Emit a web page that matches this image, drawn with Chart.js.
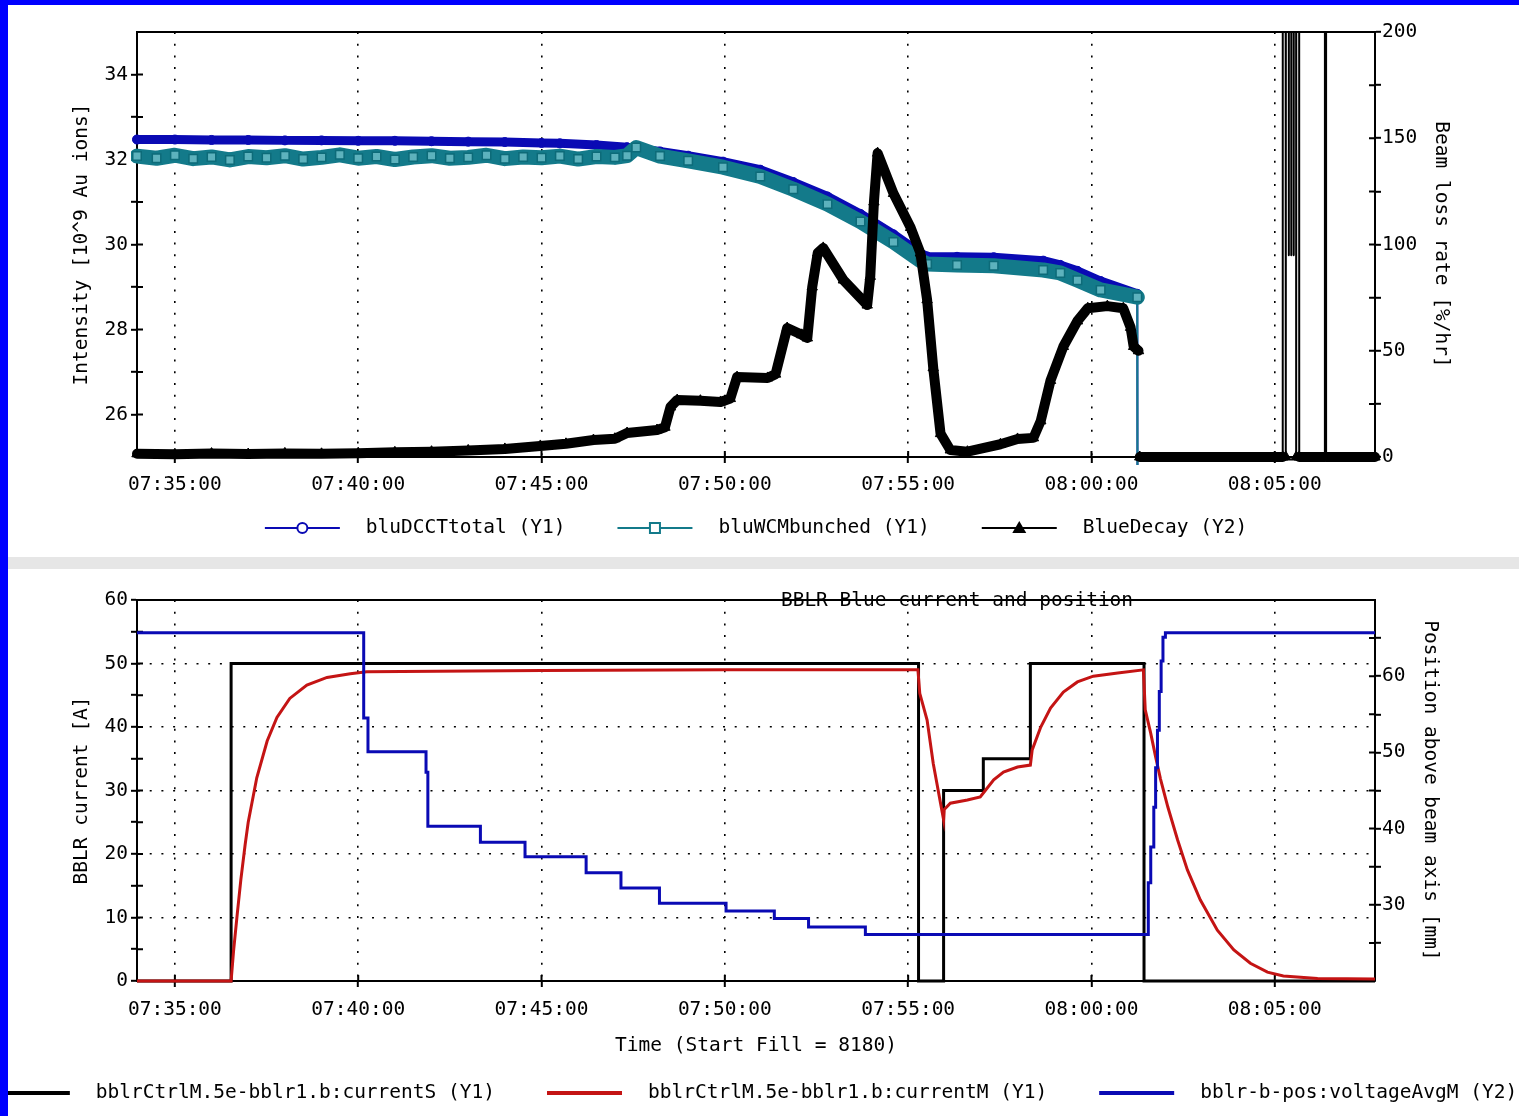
<!DOCTYPE html>
<html>
<head>
<meta charset="utf-8">
<title>Blue intensity / BBLR current and position</title>
<script src="https://cdn.jsdelivr.net/npm/chart.js@4.4.1/dist/chart.umd.min.js"></script>
<style>
  html, body { margin: 0; padding: 0; background: #0000ff; overflow: hidden; }
  #sheet { position: absolute; left: 8px; top: 5px; width: 1511px; height: 1111px; background: #fff; }
  #upper { position: absolute; left: 0; top: 0; }
  #divider { position: absolute; left: 0; top: 552px; width: 1511px; height: 12px; background: #e6e6e6; }
  #lower { position: absolute; left: 0; top: 564px; }
</style>
</head>
<body>
<div id="sheet">
  <canvas id="upper" width="1511" height="552"></canvas>
  <div id="divider"></div>
  <canvas id="lower" width="1511" height="547"></canvas>
</div>
<script>
// ---- shared time axis ----
const timeRange = ['07:33:58', '08:07:44'];
const timeTicks = ['07:35:00', '07:40:00', '07:45:00', '07:50:00', '07:55:00', '08:00:00', '08:05:00'];

// ---- upper panel: intensity (Y1) and loss rate (Y2) ----
const intensityTicks = [26, 27, 28, 29, 30, 31, 32, 33, 34];
const lossTicks = [0, 25, 50, 75, 100, 125, 150, 175, 200];

const dcctTimes = ['07:33:58', '07:35:00', '07:36:00', '07:37:00', '07:38:00', '07:39:00', '07:40:00', '07:41:00',
                   '07:42:00', '07:43:00', '07:44:00', '07:45:00', '07:45:30', '07:46:30', '07:47:20', '07:48:14',
                   '07:49:00', '07:49:57', '07:50:58', '07:51:52', '07:52:48', '07:53:42', '07:54:36', '07:55:20',
                   '07:55:31', '07:56:20', '07:57:20', '07:58:41', '07:59:09', '07:59:37', '08:00:15', '08:01:15',
                   '08:01:17', '08:07:44'];
const dcctValues = [32.47, 32.47, 32.46, 32.46, 32.45, 32.45, 32.44, 32.44,
                    32.43, 32.42, 32.41, 32.39, 32.38, 32.34, 32.29, 32.19,
                    32.09, 31.95, 31.76, 31.47, 31.13, 30.72, 30.24, 29.80,
                    29.72, 29.71, 29.70, 29.62, 29.52, 29.38, 29.14, 28.84,
                    0, 0];

const wcmTimes = ['07:33:58', '07:34:30', '07:35:00', '07:35:30', '07:36:00', '07:36:30', '07:37:00', '07:37:30',
                  '07:38:00', '07:38:30', '07:39:00', '07:39:30', '07:40:00', '07:40:30', '07:41:00', '07:41:30',
                  '07:42:00', '07:42:30', '07:43:00', '07:43:30', '07:44:00', '07:44:30', '07:45:00', '07:45:30',
                  '07:46:00', '07:46:30', '07:47:00', '07:47:20', '07:47:35', '07:48:14', '07:49:00', '07:49:57',
                  '07:50:58', '07:51:52', '07:52:48', '07:53:42', '07:54:36', '07:55:20', '07:55:31', '07:56:20',
                  '07:57:20', '07:58:41', '07:59:09', '07:59:37', '08:00:15', '08:01:15', '08:01:17', '08:07:44'];
const wcmValues = [32.08, 32.03, 32.10, 32.02, 32.06, 31.99, 32.07, 32.04,
                   32.09, 32.01, 32.05, 32.11, 32.03, 32.07, 32.00, 32.06,
                   32.09, 32.03, 32.05, 32.10, 32.02, 32.06, 32.04, 32.08,
                   32.01, 32.07, 32.05, 32.09, 32.28, 32.08, 31.97, 31.82,
                   31.60, 31.30, 30.95, 30.54, 30.06, 29.62, 29.54, 29.52,
                   29.50, 29.40, 29.33, 29.16, 28.93, 28.76, 0, 0];

const decayTimes = ['07:33:58', '07:35:00', '07:36:00', '07:37:00', '07:38:00', '07:39:00', '07:40:00', '07:41:00',
                    '07:42:00', '07:43:00', '07:44:00', '07:44:58', '07:45:40', '07:46:25', '07:47:00', '07:47:20',
                    '07:48:09', '07:48:22', '07:48:31', '07:48:42', '07:49:20', '07:49:53', '07:50:09', '07:50:20',
                    '07:51:10', '07:51:23', '07:51:42', '07:52:06', '07:52:15', '07:52:23', '07:52:32', '07:52:41',
                    '07:53:14', '07:53:53', '07:53:58', '07:54:04', '07:54:10', '07:54:36', '07:55:04', '07:55:20',
                    '07:55:31', '07:55:41', '07:55:53', '07:56:09', '07:56:37', '07:57:31', '07:57:59', '07:58:25',
                    '07:58:37', '07:58:53', '07:59:14', '07:59:37', '07:59:54', '08:00:26', '08:00:52', '08:01:04',
                    '08:01:09', '08:01:17', '08:01:18', '08:01:19', '08:05:13', '08:05:14', '08:05:18', '08:05:21',
                    '08:05:23', '08:05:25', '08:05:27', '08:05:29', '08:05:31', '08:05:33', '08:05:35', '08:05:38',
                    '08:05:40', '08:06:22', '08:06:23', '08:06:24', '08:07:44'];
const decayValues = [1.5, 1.3, 1.6, 1.4, 1.7, 1.5, 1.8, 2.2,
                     2.5, 3.1, 3.8, 5.2, 6.2, 8.0, 8.6, 11.3,
                     12.7, 14.0, 23.5, 26.8, 26.5, 25.9, 27.5, 37.6,
                     37.2, 39.0, 60.7, 57.5, 56.0, 80.0, 96.0, 98.4,
                     83.3, 71.5, 85.0, 120.0, 143.0, 124.0, 108.0, 96.0,
                     74.0, 42.0, 11.0, 3.3, 2.5, 6.0, 8.5, 9.0,
                     17.0, 36.0, 52.0, 64.0, 70.0, 71.0, 70.0, 61.0,
                     52.0, 50.0, null, 0, 0, 5000, 0, 5000,
                     95, 5000, 95, 5000, 95, 5000, 0, 5000,
                     0, 0, 5000, 0, 0];
const dumpTime = '08:01:17';

// ---- lower panel: BBLR current (Y1) and position (Y2) ----
const currentTicks = [0, 5, 10, 15, 20, 25, 30, 35, 40, 45, 50, 55, 60];
const positionTicks = [25, 30, 35, 40, 45, 50, 55, 60, 65];

const setTimes = ['07:33:58', '07:36:32', '07:55:17', '07:55:58', '07:57:03', '07:58:20', '08:01:26', '08:07:44'];
const setValues = [0, 50, 0, 30, 35, 50, 0, 0];

const measTimes = ['07:33:58', '07:36:32', '07:36:36', '07:36:42', '07:36:48', '07:36:55', '07:37:00', '07:37:14',
                   '07:37:31', '07:37:47', '07:38:08', '07:38:36', '07:39:09', '07:39:47', '07:40:14', '07:45:00',
                   '07:50:00', '07:55:16', '07:55:19', '07:55:31', '07:55:41', '07:55:53', '07:55:58', '07:55:59',
                   '07:56:09', '07:56:37', '07:56:58', '07:57:03', '07:57:20', '07:57:36', '07:57:59', '07:58:20',
                   '07:58:23', '07:58:37', '07:58:53', '07:59:14', '07:59:37', '08:00:03', '08:00:43', '08:01:25',
                   '08:01:28', '08:01:37', '08:01:45', '08:01:53', '08:02:05', '08:02:21', '08:02:37', '08:02:58',
                   '08:03:26', '08:03:53', '08:04:20', '08:04:48', '08:05:14', '08:06:10', '08:07:44'];
const measValues = [0, 0, 4.7, 10.5, 16.0, 21.5, 25.0, 32.0,
                    37.8, 41.5, 44.5, 46.6, 47.8, 48.4, 48.7, 48.9,
                    49.0, 49.0, 45.3, 41.1, 34.3, 28.0, 25.4, 27.0,
                    28.0, 28.5, 29.0, 29.6, 31.7, 32.9, 33.7, 34.0,
                    36.4, 40.0, 43.0, 45.5, 47.1, 48.0, 48.5, 49.0,
                    42.7, 39.0, 35.3, 31.8, 27.4, 22.2, 17.5, 12.8,
                    8.0, 4.9, 2.8, 1.4, 0.8, 0.4, 0.3];

const posTimes = ['07:33:58', '07:40:09', '07:40:16', '07:41:51', '07:41:54', '07:43:20', '07:44:33', '07:46:13',
                  '07:47:10', '07:48:13', '07:50:02', '07:51:21', '07:52:17', '07:53:50', '08:01:33', '08:01:37',
                  '08:01:42', '08:01:45', '08:01:48', '08:01:51', '08:01:54', '08:01:57', '08:02:01', '08:07:44'];
const posValues = [65.7, 54.5, 50.1, 47.4, 40.3, 38.2, 36.3, 34.2,
                   32.2, 30.2, 29.2, 28.2, 27.1, 26.1, 32.9, 37.6,
                   42.8, 48.0, 52.9, 58.0, 62.0, 65.1, 65.7, 65.7];

// ---- helpers ----
const toSec = s => s.split(':').reduce((acc, n) => acc * 60 + Number(n), 0);
const clock = v => {
  const s = Math.round(v);
  return [Math.floor(s / 3600), Math.floor(s % 3600 / 60), s % 60]
    .map(n => String(n).padStart(2, '0')).join(':');
};
const series = (times, values) => times.map((t, i) => ({ x: toSec(t), y: values[i] }));

const BLACK = '#000';
const FONT = { family: 'DejaVu Sans Mono', size: 19.5 };
const CSS_FONT = `${FONT.size}px "${FONT.family}"`;
Chart.defaults.font.family = FONT.family;
Chart.defaults.font.size = FONT.size;
Chart.defaults.color = BLACK;

// thin line wherever a segment leaves the axis range (dump, spikes)
const thinOffScale = (lo, hi, wide) => c => {
  const a = c.p0.parsed.y, b = c.p1.parsed.y;
  return (a < lo || a > hi || b < lo || b > hi) ? 2 : wide;
};

// top frame line plus tick marks that also reach into the plot
const framePlugin = {
  id: 'frame',
  defaults: { inner: 6 },
  beforeDatasetsDraw(chart, args, opts) {
    const { ctx, chartArea: a } = chart;
    ctx.save();
    ctx.strokeStyle = BLACK;
    ctx.lineWidth = 2;
    ctx.beginPath();
    ctx.moveTo(a.left, a.top);
    ctx.lineTo(a.right, a.top);
    for (const s of Object.values(chart.scales)) {
      for (const t of s.ticks) {
        const p = s.getPixelForValue(t.value);
        if (s.isHorizontal()) { ctx.moveTo(p, a.bottom); ctx.lineTo(p, a.bottom - opts.inner); }
        else if (s.position === 'left') { ctx.moveTo(a.left, p); ctx.lineTo(a.left + opts.inner, p); }
        else { ctx.moveTo(a.right, p); ctx.lineTo(a.right - opts.inner, p); }
      }
    }
    ctx.stroke();
    ctx.restore();
  }
};

function drawKeyMarker(ctx, kind, x, y, color) {
  if (!kind) return;
  ctx.save();
  ctx.lineWidth = 2;
  ctx.strokeStyle = color;
  ctx.fillStyle = '#fff';
  ctx.beginPath();
  if (kind === 'circle') {
    ctx.arc(x, y, 5, 0, Math.PI * 2);
    ctx.fill(); ctx.stroke();
  } else if (kind === 'square') {
    ctx.rect(x - 5, y - 5, 10, 10);
    ctx.fill(); ctx.stroke();
  } else if (kind === 'triangle') {
    ctx.moveTo(x, y - 7); ctx.lineTo(x + 7, y + 5); ctx.lineTo(x - 7, y + 5); ctx.closePath();
    ctx.fillStyle = color; ctx.fill();
  }
  ctx.restore();
}

// series key: line sample with marker, then the label, centred under the plot
const keyPlugin = {
  id: 'key',
  afterDraw(chart, args, opts) {
    const { ctx, chartArea: a } = chart;
    const sets = chart.data.datasets;
    ctx.save();
    ctx.font = CSS_FONT;
    const widths = sets.map(d => ctx.measureText(d.label).width);
    const total = widths.reduce((sum, w) => sum + opts.symbol + opts.textGap + w, 0) + opts.gap * (sets.length - 1);
    let x = (a.left + a.right) / 2 - total / 2;
    sets.forEach((d, i) => {
      ctx.strokeStyle = d.borderColor;
      ctx.lineWidth = opts.lineWidth;
      ctx.beginPath();
      ctx.moveTo(x, opts.y);
      ctx.lineTo(x + opts.symbol, opts.y);
      ctx.stroke();
      drawKeyMarker(ctx, d.keyMarker, x + opts.symbol / 2, opts.y, d.borderColor);
      ctx.fillStyle = BLACK;
      ctx.textAlign = 'left';
      ctx.textBaseline = 'middle';
      ctx.fillText(d.label, x + opts.symbol + opts.textGap, opts.y);
      x += opts.symbol + opts.textGap + widths[i] + opts.gap;
    });
    ctx.restore();
  }
};

const captionPlugin = {
  id: 'caption',
  afterDraw(chart, args, opts) {
    if (!opts.text) return;
    const ctx = chart.ctx;
    ctx.save();
    ctx.font = CSS_FONT;
    ctx.fillStyle = BLACK;
    ctx.textAlign = 'center';
    ctx.textBaseline = 'middle';
    ctx.fillText(opts.text, opts.x, opts.y);
    ctx.restore();
  }
};

function timeAxis(height, labelPad, title) {
  return {
    type: 'linear',
    position: 'bottom',
    min: toSec(timeRange[0]),
    max: toSec(timeRange[1]),
    afterBuildTicks: s => { s.ticks = timeTicks.map(t => ({ value: toSec(t) })); },
    afterFit: s => { s.height = height; },
    ticks: { autoSkip: false, maxRotation: 0, padding: labelPad, callback: v => clock(v) },
    grid: { color: BLACK, lineWidth: 1.6, tickLength: 6, tickWidth: 2, tickColor: BLACK },
    border: { color: BLACK, width: 2, dash: [2, 9.7] },
    title: title ? { display: true, text: title, padding: { top: 0, bottom: 24 } } : { display: false }
  };
}

function valueAxis(cfg) {
  return {
    type: 'linear',
    position: cfg.position,
    min: cfg.min,
    max: cfg.max,
    afterBuildTicks: s => { s.ticks = cfg.ticks.map(v => ({ value: v })); },
    afterFit: s => { s.width = cfg.width; },
    ticks: { autoSkip: false, padding: cfg.position === 'left' ? 3 : 1,
             callback: v => (v % cfg.labelEvery === 0 ? String(v) : '') },
    grid: {
      drawOnChartArea: !!cfg.gridEvery,
      color: c => (cfg.gridEvery && c.tick && c.tick.value % cfg.gridEvery === 0 &&
                   c.tick.value > cfg.min && c.tick.value < cfg.max) ? BLACK : 'rgba(0,0,0,0)',
      lineWidth: 1.6, tickLength: 6, tickWidth: 2, tickColor: BLACK
    },
    border: { color: BLACK, width: 2, dash: [2, 9.7] },
    title: { display: true, text: cfg.title, padding: { top: cfg.titleGap, bottom: 0 } }
  };
}

const dataClip = { left: 6, top: 0, right: 6, bottom: 8 };
const dumpSec = toSec(dumpTime);

// ---- upper chart ----
new Chart(document.getElementById('upper'), {
  type: 'line',
  data: {
    datasets: [
      {
        label: 'bluDCCTtotal (Y1)', keyMarker: 'circle', yAxisID: 'y', order: 3,
        data: series(dcctTimes, dcctValues),
        borderColor: '#0a0ab4', borderWidth: 9, borderJoinStyle: 'round', borderCapStyle: 'round',
        pointStyle: 'circle', pointRadius: 4.5, pointBorderWidth: 1,
        pointBorderColor: '#0a0ab4', pointBackgroundColor: '#0a0ab4',
        segment: { borderWidth: thinOffScale(25, 35, 9) },
        clip: dataClip
      },
      {
        label: 'bluWCMbunched (Y1)', keyMarker: 'square', yAxisID: 'y', order: 2,
        data: series(wcmTimes, wcmValues),
        borderColor: '#137a8a', borderWidth: 15, borderJoinStyle: 'round', borderCapStyle: 'round',
        pointStyle: 'rect', pointRadius: 6, pointBorderWidth: 1.5,
        pointBorderColor: '#0d6b79', pointBackgroundColor: '#5db2bd',
        segment: { borderWidth: thinOffScale(25, 35, 15) },
        clip: dataClip
      },
      {
        label: 'BlueDecay (Y2)', keyMarker: 'triangle', yAxisID: 'y2', order: 1,
        data: series(decayTimes, decayValues),
        borderColor: BLACK, borderWidth: 10, borderJoinStyle: 'round', borderCapStyle: 'round',
        pointStyle: 'triangle',
        // after the dump only the zero readings keep their markers
        pointRadius: c => (c.parsed && c.parsed.x > dumpSec && c.parsed.y !== 0 ? 0 : 6),
        pointBorderColor: BLACK, pointBackgroundColor: BLACK, pointBorderWidth: 1,
        segment: { borderWidth: thinOffScale(0, 200, 10) },
        clip: dataClip
      }
    ]
  },
  options: {
    responsive: false,
    animation: false,
    events: [],
    layout: { padding: { top: 27, bottom: 40, left: 0, right: 0 } },
    scales: {
      x: timeAxis(60, 10, null),
      y: valueAxis({ position: 'left', min: 25, max: 35, ticks: intensityTicks, labelEvery: 2,
                     width: 129, title: 'Intensity [10^9 Au ions]', titleGap: 62 }),
      y2: valueAxis({ position: 'right', min: 0, max: 200, ticks: lossTicks, labelEvery: 50,
                      width: 144, title: 'Beam loss rate [%/hr]', titleGap: 66 })
    },
    plugins: {
      legend: { display: false },
      tooltip: { enabled: false },
      key: { y: 523, symbol: 75, textGap: 26, gap: 52, lineWidth: 2 }
    }
  },
  plugins: [framePlugin, keyPlugin]
});

// ---- lower chart ----
new Chart(document.getElementById('lower'), {
  type: 'line',
  data: {
    datasets: [
      {
        label: 'bblrCtrlM.5e-bblr1.b:currentS (Y1)', yAxisID: 'y', order: 3,
        data: series(setTimes, setValues), stepped: 'before',
        borderColor: BLACK, borderWidth: 3, pointRadius: 0, clip: 3
      },
      {
        label: 'bblrCtrlM.5e-bblr1.b:currentM (Y1)', yAxisID: 'y', order: 2,
        data: series(measTimes, measValues),
        borderColor: '#c41414', borderWidth: 3, pointRadius: 0, clip: 3
      },
      {
        label: 'bblr-b-pos:voltageAvgM (Y2)', yAxisID: 'y2', order: 1,
        data: series(posTimes, posValues), stepped: 'before',
        borderColor: '#0a0ab4', borderWidth: 3, pointRadius: 0, clip: 3
      }
    ]
  },
  options: {
    responsive: false,
    animation: false,
    events: [],
    layout: { padding: { top: 31, bottom: 34, left: 0, right: 0 } },
    scales: {
      x: timeAxis(101, 11, 'Time (Start Fill = 8180)'),
      y: valueAxis({ position: 'left', min: 0, max: 60, ticks: currentTicks, labelEvery: 10, gridEvery: 10,
                     width: 129, title: 'BBLR current [A]', titleGap: 62 }),
      y2: valueAxis({ position: 'right', min: 20, max: 70, ticks: positionTicks, labelEvery: 10,
                      width: 144, title: 'Position above beam axis [mm]', titleGap: 77 })
    },
    plugins: {
      legend: { display: false },
      tooltip: { enabled: false },
      key: { y: 524, symbol: 75, textGap: 26, gap: 52, lineWidth: 4 },
      caption: { text: 'BBLR Blue current and position', x: 949, y: 32 }
    }
  },
  plugins: [framePlugin, keyPlugin, captionPlugin]
});
</script>
</body>
</html>
